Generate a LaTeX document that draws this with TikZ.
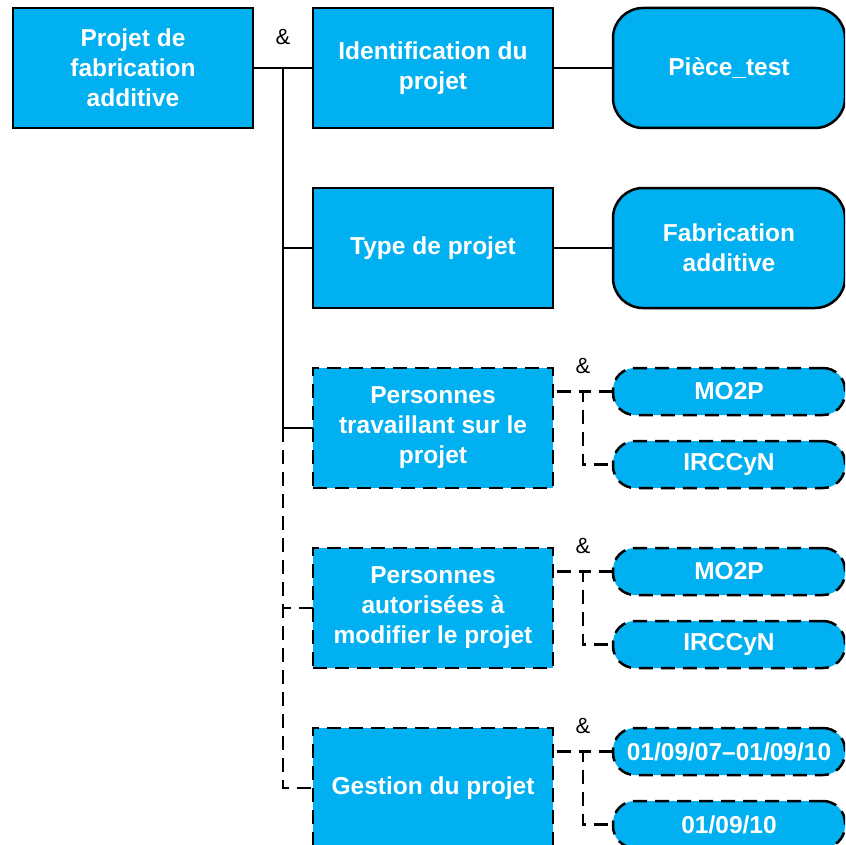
\documentclass[tikz,border=0pt]{standalone}
\usepackage{fontspec}
\setmainfont{Liberation Sans}
\usepackage{tikz}
\usetikzlibrary{positioning}
\definecolor{boxblue}{RGB}{0,176,240}

\begin{document}
\begin{tikzpicture}[
  x=1pt, y=-1pt,
  font=\fontsize{24.5}{30}\selectfont\bfseries,
  box/.style={draw, line width=2.5pt, fill=boxblue, text=white, align=center,
    minimum width=240pt, minimum height=120pt, inner sep=0pt, outer sep=0pt},
  optbox/.style={box, dash pattern=on 14pt off 8pt},
  value/.style={box, rounded corners=30pt, minimum width=232pt},
  small/.style={optbox, rounded corners=22pt, minimum width=232pt, minimum height=47pt},
  link/.style={line width=2.5pt},
  optlink/.style={line width=2.5pt, dash pattern=on 14pt off 8pt},
  amp/.style={font=\fontsize{22}{26}\selectfont\mdseries, text=black}
]
\clip (0,0) rectangle (845,845);
% --- racine et branches principales ---
\node[box] (root) at (133,68) {Projet de\\fabrication\\additive};
\node[box, right=60pt of root] (ident) {Identification du\\projet};
\node[value, right=60pt of ident] (piece) {Pièce\_test};
\node[box, below=60pt of ident] (type) {Type de projet};
\node[value, right=60pt of type] (fab) {Fabrication\\additive};
\node[optbox, below=60pt of type] (pers) {Personnes\\travaillant sur le\\projet};
\node[optbox, below=60pt of pers] (modif) {Personnes\\autorisées à\\modifier le projet};
\node[optbox, below=60pt of modif] (gest) {Gestion du projet};
% --- valeurs ---
\node[small, anchor=north west] (mo1) at ([xshift=60pt]pers.north east) {MO2P};
\node[small, anchor=south west] (ir1) at ([xshift=60pt]pers.south east) {IRCCyN};
\node[small, anchor=north west] (mo2) at ([xshift=60pt]modif.north east) {MO2P};
\node[small, anchor=south west] (ir2) at ([xshift=60pt]modif.south east) {IRCCyN};
\node[small, anchor=north west] (date1) at ([xshift=60pt]gest.north east) {01/09/07--01/09/10};
\node[small, anchor=south west] (date2) at ([xshift=60pt]gest.south east) {01/09/10};
% --- liens ---
\coordinate (fork) at ([xshift=30pt]root.east);
\node[amp] (and0) at ([yshift=31pt]fork) {\&};
\draw[link] (root) -- (ident);
\draw[link] (fork) |- (type.west);
\draw[link] (fork) |- (pers.west);
\draw[optlink] (fork |- pers.west) |- (gest.west);
\draw[optlink] (modif.west) -- (fork |- modif.west);
\draw[link] (ident) -- (piece);
\draw[link] (type) -- (fab);
% --- sous-branches ---
\foreach \src/\top/\bot/\amp in {pers/mo1/ir1/and1, modif/mo2/ir2/and2, gest/date1/date2/and3}{
  \node[amp] (\amp) at ([xshift=-30pt, yshift=2pt]\top.north west) {\&};
  \draw[optlink, dash phase=18pt] (\src.east |- \top.west) -- ++(30,0) |- (\bot.west);
  \draw[optlink] (\top.west) -- ([xshift=-30pt]\top.west);
}
\end{tikzpicture}
\end{document}
